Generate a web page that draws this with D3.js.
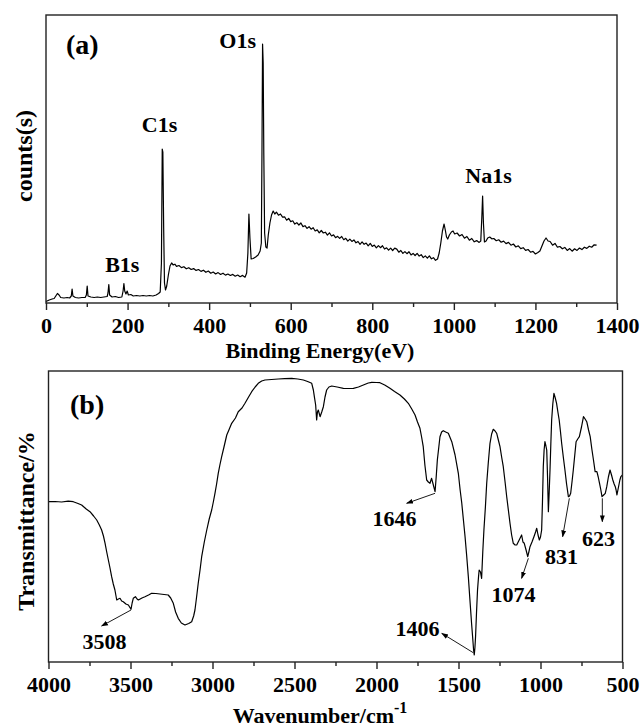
<!DOCTYPE html>
<html>
<head>
<meta charset="utf-8">
<script src="https://cdn.jsdelivr.net/npm/d3@7/dist/d3.min.js"></script>
<style>
  html, body { margin: 0; padding: 0; background: #fff; }
  svg text { font-family: "Liberation Serif", "Times New Roman", serif; font-weight: bold; fill: #000; }
</style>
</head>
<body>
<svg id="chart" width="640" height="727"></svg>
<script>
// ---------- Panel (a): XPS survey ----------
const xpsEnergy = [0,8,15,20,24,28,32,36,44,52,58,62,64,66,72,80,88,96,99,101,103,110,118,126,134,142,150,152,154,156,162,170,178,186,189,191,193,196,199,202,208,214,222,230,238,246,254,262,270,276,280,283,285,286.5,288.5,290.5,293,296,300,304,308,
312,316,320,326,332,338,344,350,356,362,368,374,380,386,392,398,404,410,416,422,428,434,440,446,452,458,464,470,476,482,488,
492,495,497.5,500,503,508,514,520,525,528,529.5,531,532.5,534,536,539,542,545,549,553,557,561,
565,570,575,580,585,590,595,600,605,610,615,620,625,630,635,640,645,650,655,660,665,670,675,680,685,690,695,700,705,710,715,720,725,730,735,740,745,750,755,760,765,770,775,780,785,790,795,800,805,810,815,820,825,830,835,840,845,850,855,860,865,870,875,880,885,890,895,900,905,910,915,920,925,930,935,940,945,950,955,
960,964,968,972,976,979,982,985,989,994,998,1002,
1008,1014,1020,1026,1032,1038,1044,1050,1056,1062,
1066,1068.5,1070.5,1072.5,1075,
1079,1083,1088,1093,1098,1104,1110,1116,1122,1128,1134,1140,1146,1152,1158,1164,1170,1176,1182,1188,1194,1200,1206,
1211,1216,1221,1226,1231,1236,
1242,1248,1254,1260,1266,1272,1278,1284,1290,1296,1302,1308,1314,1320,1326,1332,1338,1344,1350];
const xpsCounts = [1.5,3,4,4.5,7,9.5,8,5.5,5,5.5,5,7,14,7,5.5,5,5.5,5.5,8,17,7,6,5.5,6,5.5,6,6.5,10,18.5,8,6,6.5,5.5,6,12,19.5,12,9,12,8,8.5,7,7.5,7,7.5,7,7.5,7,8,9.5,11,40,154,151,75,20,13,17,28,37,40,
38.0,38.8,36.6,37.5,35.4,36.3,34.2,35.3,33.5,34.4,32.6,33.5,31.6,32.8,30.7,32.0,29.8,31.0,29.0,30.4,28.5,29.8,27.9,29.0,27.5,28.6,26.8,28.0,26.3,27.6,25.8,
30,50,89,65,44,44.5,46,48,52,60,150,259,240,150,70,56,55,68,80,88,92,89,
90.8,87.8,89.0,85.9,86.2,82.8,84.6,81.4,82.2,78.9,80.3,78.0,80.0,76.4,77.3,74.6,76.3,73.8,75.3,72.0,73.1,70.2,72.5,70.0,70.8,67.9,70.2,67.0,68.1,65.3,66.7,64.6,66.5,63.3,64.7,61.9,63.9,61.6,63.1,60.2,61.5,58.7,61.1,58.7,59.9,57.2,59.6,56.6,57.9,55.2,57.4,55.3,57.3,54.0,55.2,52.8,54.9,52.5,54.9,53.9,50.8,52.5,49.6,51.4,49.3,51.3,48.1,49.6,47.5,49.6,46.9,48.3,45.4,47.1,44.8,47.1,44.2,45.3,42.7,
44,50,60,72,79,73,66,64,68,71,72,69,
70,67,68.5,64.8,66.5,62.8,64.5,61.2,62.4,60.6,
62,85,107,80,61,
62,65,66,64.2,64.5,62.3,63.2,60.8,61.9,59.4,60.6,57.8,59.0,56.0,57.2,54.4,55.3,52.6,53.5,50.8,51.6,49.0,50.5,
52,57,62,65,62,61.5,
57.8,59.6,55.8,56.5,54.2,55.6,52.6,54.4,51.8,54.2,52.6,55.0,53.4,55.8,54.6,56.8,55.8,58.2,57.8];
const xpsTicks = [0,200,400,600,800,1000,1200,1400];
const xpsMinorTicks = [100,300,500,700,900,1100,1300];
const xpsPeakNames = ["B1s","C1s","O1s","Na1s"];
const xpsPeakLabelX = [145,235,515,1028];   // energy at which label sits
const xpsPeakLabelY = [31,171,255,120];     // counts level of label baseline
const xpsPeakAnchor = ["start","start","end","start"];

// ---------- Panel (b): FTIR ----------
const ftirWavenumber = [4000,3960,3920,3880,3849,3820,3798,3770,3747,3725,3706,3690,3676,3665,3655,3645,3635,3625,3615,3605,3595,3584,3574,3564,3554,3544,3528,3513,3497,3490,3483,3470,3460,3452,3430,3412,3390,3371,3345,3320,3295,3270,3255,3239,3225,3209,3190,3168,3145,3127,3115,3107,3097,3087,3076,3066,3050,3035,3020,3005,2995,2985,2975,2965,2955,2944,2930,2913,2900,2883,2860,2843,2820,2802,2780,2761,2740,2721,2700,2680,2640,2599,2560,2517,2480,2446,2420,2395,2385,2379,2371,2365,2360,2355,2344,2334,2324,2314,2304,2290,2273,2240,2202,2170,2141,2110,2080,2050,2029,2000,1979,1950,1918,1890,1857,1830,1806,1785,1765,1750,1735,1725,1715,1705,1694,1684,1674,1664,1655,1643,1636,1629,1620,1613,1603,1593,1578,1562,1541,1521,1501,1490,1480,1470,1460,1450,1440,1432,1426,1420,1414,1408,1404,1400,1396,1390,1384,1378,1374,1366,1359,1352,1345,1336,1328,1318,1308,1298,1288,1277,1267,1257,1247,1237,1227,1216,1206,1196,1186,1176,1166,1155,1145,1130,1115,1107,1099,1088,1078,1071,1064,1052,1040,1030,1023,1015,1007,1000,993,988,983,978,973,967,962,957,952,947,942,937,932,925,918,910,902,894,886,878,871,861,851,841,830,823,816,808,800,791,783,773,763,750,738,728,718,707,697,687,677,667,656,648,640,632,625,615,605,596,586,576,567,559,551,544,539,534,528,522,516,510,500];
const ftirTransmittance = [160.3,160.5,160,160.8,160.3,158.5,157,153,150.3,146,142,137,132,126,118.7,110,102,94,85.3,78,72,62,63,63.7,61,60.3,58,57,52.7,59,63.7,65.3,63,62,64,65.3,67,68.7,68.5,68,67.5,67,64,58.7,50,43.7,39,37,38.5,40.3,46,52,65,78.7,92,105.3,120,132,143,152,160,168.7,178,188.7,197,205.3,215,227,232,238.7,244,250.3,254,258.7,265,270.3,275,278.7,281,282,282.5,283,283.3,283.7,283,282,280.5,278.7,272,265.3,257,242,250,252,245.3,250,255.3,265,272,275,276,275,273.7,273.5,273.7,275,277,279,279.7,279.5,279.3,277,273.7,270.5,267,263,258.7,253,247,240,233.7,225,215.3,197,182,180,178.7,183.7,178,170.3,185,202,215,225.3,230,231.3,230,228.7,220.3,207,188.7,172,158.7,142,125.3,106,85.3,66,52,38,25.3,12,7,14,25.3,50,72,85,92,90,83.7,110,132,155,178.7,200,218.7,228,232.7,231,228.7,222,215.3,205,195.3,180,165.3,152,138.7,127,118.7,117,117,122,127,120,118.7,112,105.3,110,115.3,120,125.3,130,133.7,127,122,125,132,160,195.3,212,220.3,216,212,185,150.3,170,192,218,242,258,268.7,264,258.7,250,242,230,218.7,205,192,178,165.3,166,168.7,180,192,207,220.3,223,225.3,235,245.3,243,240.3,232,225.3,213,202,190.3,190.3,185,178.7,172,165.3,167,168.7,175.3,185,192,187,182,178,175.3,172,167,172,177,182,185.3,187];
const ftirTicks = [4000,3500,3000,2500,2000,1500,1000,500];
const ftirMinorTicks = [3750,3250,2750,2250,1750,1250,750];
// annotated bands: label, arrow tail (on curve), arrow head, label centre (data units)
const bandLabels   = ["3508","1646","1406","1074","831","623"];
const bandTailW    = [3497,1643,1410,1074,824,623];
const bandTailT    = [52,168.7,9.3,103.7,163.7,163.7];
const bandHeadW    = [3676,1816,1602,1115,865,623];
const bandHeadT    = [36,158.7,28.7,83.7,125.3,140.3];
const bandTextW    = [3659,1890,1750,1165,872,647];
const bandTextT    = [20.3,143.7,33,67,105.3,123.7];

// ---------- drawing ----------
const svg = d3.select("#chart");
const defs = svg.append("defs");
defs.append("marker").attr("id","arrow").attr("viewBox","0 0 10 10")
  .attr("refX",9).attr("refY",5).attr("markerWidth",7).attr("markerHeight",7)
  .attr("markerUnits","userSpaceOnUse").attr("orient","auto")
  .append("path").attr("d","M0,1.5 L10,5 L0,8.5 Z").attr("fill","#000");

function frame(x0,y0,x1,y1){
  svg.append("rect").attr("x",x0).attr("y",y0).attr("width",x1-x0).attr("height",y1-y0)
    .attr("fill","none").attr("stroke","#222").attr("stroke-width",1.4);
}
function bottomAxis(scale, yPix, major, minor){
  const g = svg.append("g").attr("transform",`translate(0,${yPix})`)
    .call(d3.axisBottom(scale).tickValues(major).tickSize(7).tickPadding(7.5).tickFormat(d3.format("d")));
  g.select(".domain").remove();
  g.selectAll(".tick line").attr("stroke","#222").attr("stroke-width",1.4);
  g.selectAll(".tick text").style("font-size","22px").attr("fill","#000");
  const gm = svg.append("g").attr("transform",`translate(0,${yPix})`)
    .call(d3.axisBottom(scale).tickValues(minor).tickSize(4).tickFormat(""));
  gm.select(".domain").remove();
  gm.selectAll(".tick line").attr("stroke","#222").attr("stroke-width",1.4);
}

// Panel (a)
const ax = d3.scaleLinear().domain([0,1400]).range([46,617]);
const ay = d3.scaleLinear().domain([0,288]).range([303,15]);
const xpsData = xpsEnergy.map((e,i)=>[e,xpsCounts[i]]);
svg.append("path").datum(xpsData)
  .attr("d", d3.line().x(d=>ax(d[0])).y(d=>ay(d[1])))
  .attr("fill","none").attr("stroke","#000").attr("stroke-width",1.2).attr("stroke-linejoin","round");
frame(46,15,617,303);
bottomAxis(ax,303,xpsTicks,xpsMinorTicks);
svg.append("text").attr("x",66).attr("y",54).style("font-size","28px").text("(a)");
xpsPeakNames.forEach((n,i)=>{
  svg.append("text").attr("x",ax(xpsPeakLabelX[i])).attr("y",ay(xpsPeakLabelY[i]))
    .attr("text-anchor",xpsPeakAnchor[i]).style("font-size","22px").text(n);
});
svg.append("text").attr("x",320).attr("y",358).attr("text-anchor","middle").style("font-size","22px").text("Binding Energy(eV)");
svg.append("text").attr("transform","translate(32,156) rotate(-90)").attr("text-anchor","middle").style("font-size","24px").text("counts(s)");

// Panel (b)
const bx = d3.scaleLinear().domain([4000,500]).range([48.5,622.5]);
const by = d3.scaleLinear().domain([0,291]).range([662,371]);
const ftirData = ftirWavenumber.map((w,i)=>[w,ftirTransmittance[i]]);
svg.append("path").datum(ftirData)
  .attr("d", d3.line().x(d=>bx(d[0])).y(d=>by(d[1])))
  .attr("fill","none").attr("stroke","#000").attr("stroke-width",1.2).attr("stroke-linejoin","round");
frame(48.5,371,622.5,662);
bottomAxis(bx,662,ftirTicks,ftirMinorTicks);
svg.append("text").attr("x",70).attr("y",414).style("font-size","28px").text("(b)");
bandLabels.forEach((lab,i)=>{
  svg.append("line")
    .attr("x1",bx(bandTailW[i])).attr("y1",by(bandTailT[i]))
    .attr("x2",bx(bandHeadW[i])).attr("y2",by(bandHeadT[i]))
    .attr("stroke","#000").attr("stroke-width",0.9).attr("marker-end","url(#arrow)");
  svg.append("text").attr("x",bx(bandTextW[i])).attr("y",by(bandTextT[i])).attr("dy","0.34em")
    .attr("text-anchor","middle").style("font-size","22px").text(lab);
});
const wt = svg.append("text").attr("x",320).attr("y",723).attr("text-anchor","middle").style("font-size","22px");
wt.append("tspan").text("Wavenumber/cm");
wt.append("tspan").attr("dy","-10").style("font-size","16px").text("-1");
svg.append("text").attr("transform","translate(34,521) rotate(-90)").attr("text-anchor","middle").style("font-size","24px").text("Transmittance/%");
</script>
</body>
</html>
